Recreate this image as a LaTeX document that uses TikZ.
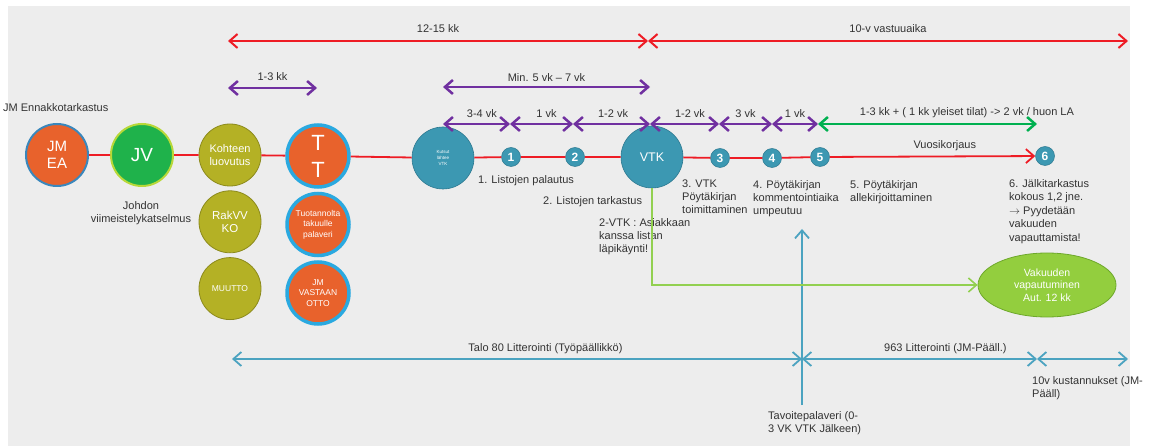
\documentclass[tikz,border=0pt]{standalone}
\usepackage{fontspec}
\setmainfont{Liberation Sans}
\usetikzlibrary{arrows.meta,shapes.geometric,positioning}

\definecolor{bggray}{HTML}{EDEDED}
\definecolor{txtgray}{HTML}{333333}
\definecolor{lred}{HTML}{EE1C25}
\definecolor{lpurple}{HTML}{7030A0}
\definecolor{lgreen}{HTML}{00B050}
\definecolor{lteal}{HTML}{4BA3C0}
\definecolor{llime}{HTML}{92D050}
\definecolor{jmorange}{HTML}{E8622C}
\definecolor{jmblue}{HTML}{2AA9E0}
\definecolor{jmsteel}{HTML}{3A87BC}
\definecolor{jvgreen}{HTML}{1FB24B}
\definecolor{jvrim}{HTML}{B8D838}
\definecolor{olive}{HTML}{B4B125}
\definecolor{olivedark}{HTML}{8C8A1C}
\definecolor{vtkteal}{HTML}{3C98B2}
\definecolor{vtkdark}{HTML}{2C7890}
\definecolor{vakfill}{HTML}{93CE3E}
\definecolor{vakrim}{HTML}{6EA82B}

\begin{document}
\begin{tikzpicture}[x=1pt,y=-1pt,
    every node/.style={font=\fontsize{11}{13}\selectfont,text=txtgray},
    lbl/.style={align=left,anchor=north west,inner sep=0pt},
    ball/.style={circle,minimum size=62pt,inner sep=0pt,text=white,align=center},
    orangeball/.style={ball,fill=jmorange,draw=jmblue,line width=3.5pt},
    oliveball/.style={ball,fill=olive,draw=olivedark,line width=0.8pt},
    tealball/.style={ball,fill=vtkteal,draw=vtkdark,line width=0.6pt},
    numball/.style={circle,minimum size=19pt,inner sep=0pt,fill=vtkteal,draw=vtkdark,
      line width=0.5pt,text=white,font=\fontsize{12}{12}\selectfont\bfseries},
    tip/.style={{Straight Barb[length=8pt,width=14pt]}-{Straight Barb[length=8pt,width=14pt]}},
    mainline/.style={draw=lred,line width=1.8pt},
    redspan/.style={tip,draw=lred,line width=2pt},
    purplespan/.style={tip,draw=lpurple,line width=2.5pt},
    greenspan/.style={tip,draw=lgreen,line width=2.5pt},
    tealspan/.style={tip,draw=lteal,line width=1.8pt}]

  % background
  \useasboundingbox (0,0) rectangle (1156,446);
  \fill[bggray] (8,6) rectangle (1130,446);

  % main row
  \node[ball,fill=jmorange,draw=jmsteel,line width=2pt,font=\fontsize{15}{17}\selectfont] (jmea) at (57,155) {JM\\EA};
  \node[ball,fill=jvgreen,draw=jvrim,line width=2pt,font=\fontsize{19}{20}\selectfont] (jv) at (142,155) {JV};
  \node[oliveball,font=\fontsize{11}{12.5}\selectfont] (kohde) at (230,155) {Kohteen\\luovutus};
  \node[orangeball,font=\fontsize{22}{27}\selectfont] (tt) at (318,156) {T\\T};
  \node[tealball,font=\fontsize{4.5}{6}\selectfont] (kutsut) at (443,158) {Kutsut\\lähtee\\VTK};
  \node[numball] (n1) at (511,157) {1};
  \node[numball] (n2) at (575,157) {2};
  \node[tealball,font=\fontsize{12.5}{14}\selectfont] (vtk) at (652,157) {VTK};
  \node[numball] (n3) at (720,158) {3};
  \node[numball] (n4) at (772,158) {4};
  \node[numball] (n5) at (820,157) {5};
  \node[numball] (n6) at (1045,156) {6};

  % columns under the handover
  \node[oliveball,font=\fontsize{11.5}{12.5}\selectfont,below=4pt of kohde] (rakvv) {RakVV\\KO};
  \node[oliveball,font=\fontsize{8.5}{10}\selectfont,below=4pt of rakvv] (muutto) {MUUTTO};
  \node[orangeball,font=\fontsize{8.5}{10.5}\selectfont,below=3pt of tt] (tuot) {Tuotannolta\\takuulle\\palaveri};
  \node[orangeball,font=\fontsize{8.5}{10.5}\selectfont,below=3pt of tuot] (vastaan) {JM\\VASTAAN\\OTTO};

  % guarantee release
  \node[ellipse,minimum width=138pt,minimum height=64pt,inner sep=0pt,fill=vakfill,draw=vakrim,
    line width=0.8pt,text=white,align=center,font=\fontsize{10.5}{12.5}\selectfont] (vak) at (1047,285)
    {Vakuuden\\vapautuminen\\Aut. 12 kk};

  % timeline
  \draw[mainline] (jmea) -- (jv) -- (kohde) -- (tt) -- (kutsut) -- (n1) -- (n2) -- (vtk) -- (n3) -- (n4) -- (n5);
  \draw[mainline,-{Straight Barb[length=8pt,width=14pt]}] (n5) -- node[above=1pt,pos=0.56] (vuosi) {Vuosikorjaus} (n6);

  % texts
  \node[anchor=west,inner sep=0pt] (ennakko) at (3,108) {JM Ennakkotarkastus};
  \node[align=center,inner sep=0pt] (johdon) at (141,213) {Johdon\\viimeistelykatselmus};
  \node[anchor=west,inner sep=0pt] (t1) at (478,181) {1. Listojen palautus};
  \node[anchor=west,inner sep=0pt] (t2) at (543,202) {2. Listojen tarkastus};
  \node[lbl] (t2vtk) at (599,218) {2-VTK : Asiakkaan\\kanssa listan\\läpikäynti!};
  \node[lbl] (t3) at (682,180) {3. VTK\\Pöytäkirjan\\toimittaminen};
  \node[lbl] (t4) at (753,180) {4. Pöytäkirjan\\kommentointiaika\\umpeutuu};
  \node[lbl] (t5) at (850,180) {5. Pöytäkirjan\\allekirjoittaminen};
  \node[lbl,font=\fontsize{11}{13.5}\selectfont] (t6) at (1009,179)
    {6. Jälkitarkastus\\kokous 1,2 jne.\\$\rightarrow$ Pyydetään\\vakuuden\\vapauttamista!};

  % spans
  \coordinate (r0) at (228,41);
  \coordinate (r1) at (648,41);
  \coordinate (r2) at (1128,41);
  \draw[redspan] (r0) -- node[above=4pt] {12-15 kk} (r1);
  \draw[redspan] (r1) -- node[above=4pt] {10-v vastuuaika} (r2);

  \coordinate (p0) at (228,88);
  \coordinate (p1) at (317,88);
  \draw[purplespan] (p0) -- node[above=3pt] {1-3 kk} (p1);
  \coordinate (m0) at (443,87);
  \coordinate (m1) at (650,87);
  \draw[purplespan] (m0) -- node[above=1pt] {Min. 5 vk – 7 vk} (m1);

  \coordinate (w0) at (443,124);
  \coordinate (w1) at (510,124);
  \coordinate (w2) at (573,124);
  \coordinate (w3) at (650,124);
  \coordinate (w4) at (719,124);
  \coordinate (w5) at (772,124);
  \coordinate (w6) at (818,124);
  \coordinate (w7) at (1037,124);
  \draw[purplespan] (w0) -- node[above=2pt,pos=0.58] {3-4 vk} (w1);
  \draw[purplespan] (w1) -- node[above=2pt,pos=0.58] {1 vk} (w2);
  \draw[purplespan] (w2) -- node[above=2pt,pos=0.52] {1-2 vk} (w3);
  \draw[purplespan] (w3) -- node[above=2pt,pos=0.58] {1-2 vk} (w4);
  \draw[purplespan] (w4) -- node[above=2pt] {3 vk} (w5);
  \draw[purplespan] (w5) -- node[above=2pt] {1 vk} (w6);
  \draw[greenspan] (w6) -- node[above=2pt,pos=0.68] {1-3 kk + ( 1 kk yleiset tilat) -> 2 vk / huon LA} (w7);

  % cost follow-up
  \coordinate (c0) at (232,359);
  \coordinate (c1) at (802,359);
  \coordinate (c2) at (1037,359);
  \coordinate (c3) at (1128,359);
  \draw[tealspan] (c0) -- node[above=1pt,pos=0.55] {Talo 80 Litterointi (Työpäällikkö)} (c1);
  \draw[tealspan] (c1) -- node[above=1pt,pos=0.61] {963 Litterointi (JM-Pääll.)} (c2);
  \draw[tealspan] (c2) -- (c3);
  \node[lbl] (kust) at (1032,376) {10v kustannukset (JM-\\Pääll)};

  \coordinate (tavo) at (802,405);
  \coordinate (tavotop) at (802,229);
  \draw[draw=lteal,line width=1.8pt,-{Straight Barb[length=8pt,width=14pt]}] (tavo) -- (tavotop);
  \node[lbl] (tavoite) at (768,411) {Tavoitepalaveri (0-\\3 VK VTK Jälkeen)};

  % vtk to guarantee
  \draw[draw=llime,line width=1.6pt,-{Straight Barb[length=8pt,width=14pt]}] (vtk.south) |- (vak.west);
\end{tikzpicture}
\end{document}
